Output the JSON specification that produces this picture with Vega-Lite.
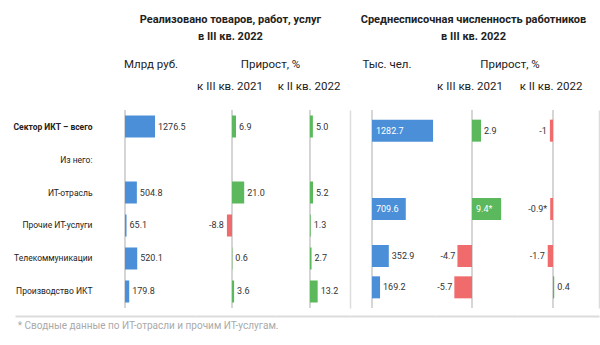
{
  "$schema": "https://vega.github.io/schema/vega-lite/v6.json",
  "background": "white",
  "padding": {"left": 12, "top": 13, "right": 2, "bottom": 5},
  "title": {"text": "* Сводные данные по ИТ-отрасли и прочим ИТ-услугам.", "orient": "bottom", "anchor": "start", "frame": "bounds", "fontSize": 10, "color": "#aaaaaa", "baseline": "top", "offset": 5, "dx": 5},
  "spacing": 0,
  "datasets": {
    "sales": [
      {"name": "Сектор ИКТ – всего", "v": 1276.5, "vl": "1276.5", "y21": 6.9, "y21l": "6.9", "y22": 5.0, "y22l": "5.0"},
      {"name": "Из него:", "v": null, "vl": null, "y21": null, "y21l": null, "y22": null, "y22l": null},
      {"name": "ИТ-отрасль", "v": 504.8, "vl": "504.8", "y21": 21.0, "y21l": "21.0", "y22": 5.2, "y22l": "5.2"},
      {"name": "Прочие ИТ-услуги", "v": 65.1, "vl": "65.1", "y21": -8.8, "y21l": "-8.8", "y22": 1.3, "y22l": "1.3"},
      {"name": "Телекоммуникации", "v": 520.1, "vl": "520.1", "y21": 0.6, "y21l": "0.6", "y22": 2.7, "y22l": "2.7"},
      {"name": "Производство ИКТ", "v": 179.8, "vl": "179.8", "y21": 3.6, "y21l": "3.6", "y22": 13.2, "y22l": "13.2"}
    ],
    "staff": [
      {"name": "Сектор ИКТ – всего", "row": 1, "v": 1282.7, "vl": "1282.7", "y21": 2.9, "y21l": "2.9", "y22": -1, "y22l": "-1"},
      {"name": "ИТ-отрасль и прочие ИТ-услуги*", "row": 3.5, "v": 709.6, "vl": "709.6", "y21": 9.4, "y21l": "9.4*", "y22": -0.9, "y22l": "-0.9*"},
      {"name": "Телекоммуникации", "row": 5, "v": 352.9, "vl": "352.9", "y21": -4.7, "y21l": "-4.7", "y22": -1.7, "y22l": "-1.7"},
      {"name": "Производство ИКТ", "row": 6, "v": 169.2, "vl": "169.2", "y21": -5.7, "y21l": "-5.7", "y22": 0.4, "y22l": "0.4"}
    ]
  },
  "hconcat": [
    {
      "title": {"text": ["Реализовано товаров, работ, услуг", "в III кв. 2022"], "fontWeight": "bold", "fontSize": 11, "frame": "bounds", "dx": 49, "offset": 17, "lineHeight": 17},
      "spacing": 0,
      "hconcat": [
        {
          "width": 180, "height": 198,
          "title": {"text": "Млрд руб.", "offset": 39, "dx": 46},
          "layer": [
            {"data": {"values": [{}]}, "mark": {"type": "rule", "color": "#c8c8c8", "strokeWidth": 1.5}, "encoding": {"x": {"datum": 0, "type": "quantitative"}}},
            {"data": {"name": "sales"}, "mark": {"type": "bar", "color": "#4a8fd8"},
             "encoding": {
               "y": {"field": "name", "type": "nominal", "title": null, "scale": {"domain": ["Сектор ИКТ – всего", "Из него:", "ИТ-отрасль", "Прочие ИТ-услуги", "Телекоммуникации", "Производство ИКТ"], "paddingInner": 0.333, "paddingOuter": 0.1667},
                     "axis": {"labels": true, "minExtent": 0, "labelAlign": "right", "labelPadding": -77, "labelFontSize": 8.5, "labelColor": "#222222", "labelLimit": 200, "labelFontWeight": {"condition": {"test": "datum.value === 'Сектор ИКТ – всего'", "value": "bold"}, "value": "normal"}}},
               "x": {"field": "v", "type": "quantitative", "title": null, "scale": {"domain": [-4681, 2979], "nice": false, "zero": false}}
             }},
            {"data": {"name": "sales"}, "transform": [{"filter": "isValid(datum.v)"}], "mark": {"type": "text", "align": "left", "dx": 3, "baseline": "middle"},
             "encoding": {
               "y": {"field": "name", "type": "nominal", "title": null,
                     "axis": {"labels": true, "minExtent": 0, "labelAlign": "right", "labelPadding": -77, "labelFontSize": 8.5, "labelColor": "#222222", "labelLimit": 200, "labelFontWeight": {"condition": {"test": "datum.value === 'Сектор ИКТ – всего'", "value": "bold"}, "value": "normal"}}},
               "x": {"field": "v", "type": "quantitative", "title": null},
               "text": {"field": "vl"}
             }}
          ]
        },
        {
          "title": {"text": "Прирост, %", "frame": "bounds", "offset": 10, "dx": -2},
          "spacing": 0,
          "hconcat": [
            {
              "width": 80, "height": 198,
              "title": {"text": "к III кв. 2021", "offset": 17, "dx": -5},
              "layer": [
                {"data": {"values": [{}]}, "mark": {"type": "rule", "color": "#c8c8c8", "strokeWidth": 1.5}, "encoding": {"x": {"datum": 0, "type": "quantitative"}}},
                {"data": {"name": "sales"}, "mark": {"type": "bar"},
                 "encoding": {
                   "y": {"field": "name", "type": "nominal", "title": null, "scale": {"domain": ["Сектор ИКТ – всего", "Из него:", "ИТ-отрасль", "Прочие ИТ-услуги", "Телекоммуникации", "Производство ИКТ"], "paddingInner": 0.333, "paddingOuter": 0.1667}},
                   "x": {"field": "y21", "type": "quantitative", "title": null, "scale": {"domain": [-63.8, 74.1], "nice": false, "zero": false}},
                   "color": {"condition": {"test": "datum.y21 < 0", "value": "#f06b6b"}, "value": "#5cb85c"}
                 }},
                {"data": {"name": "sales"}, "transform": [{"filter": "isValid(datum.y21) && datum.y21 >= 0"}], "mark": {"type": "text", "align": "left", "dx": 3, "baseline": "middle"},
                 "encoding": {"y": {"field": "name", "type": "nominal", "title": null}, "x": {"field": "y21", "type": "quantitative", "title": null}, "text": {"field": "y21l"}}},
                {"data": {"name": "sales"}, "transform": [{"filter": "isValid(datum.y21) && datum.y21 < 0"}], "mark": {"type": "text", "align": "right", "dx": -3, "baseline": "middle"},
                 "encoding": {"y": {"field": "name", "type": "nominal", "title": null}, "x": {"field": "y21", "type": "quantitative", "title": null}, "text": {"field": "y21l"}}}
              ]
            },
            {
              "width": 75, "height": 198,
              "title": {"text": "к II кв. 2022", "offset": 17, "dx": -3.5},
              "layer": [
                {"data": {"values": [{}]}, "mark": {"type": "rule", "color": "#c8c8c8", "strokeWidth": 1.5}, "encoding": {"x": {"datum": 0, "type": "quantitative"}}},
                {"data": {"name": "sales"}, "mark": {"type": "bar"},
                 "encoding": {
                   "y": {"field": "name", "type": "nominal", "title": null, "scale": {"domain": ["Сектор ИКТ – всего", "Из него:", "ИТ-отрасль", "Прочие ИТ-услуги", "Телекоммуникации", "Производство ИКТ"], "paddingInner": 0.333, "paddingOuter": 0.1667}},
                   "x": {"field": "y22", "type": "quantitative", "title": null, "scale": {"domain": [-60, 68.7], "nice": false, "zero": false}},
                   "color": {"condition": {"test": "datum.y22 < 0", "value": "#f06b6b"}, "value": "#5cb85c"}
                 }},
                {"data": {"name": "sales"}, "transform": [{"filter": "isValid(datum.y22) && datum.y22 >= 0"}], "mark": {"type": "text", "align": "left", "dx": 3, "baseline": "middle"},
                 "encoding": {"y": {"field": "name", "type": "nominal", "title": null}, "x": {"field": "y22", "type": "quantitative", "title": null}, "text": {"field": "y22l"}}}
              ]
            }
          ]
        }
      ]
    },
    {
      "title": {"text": ["Среднесписочная численность работников", "в III кв. 2022"], "fontWeight": "bold", "fontSize": 11, "frame": "bounds", "dx": -1, "offset": 17, "lineHeight": 17},
      "spacing": 0,
      "hconcat": [
        {
          "width": 85, "height": 198,
          "title": {"text": "Тыс. чел.", "offset": 39, "dx": -5.5},
          "layer": [
            {"data": {"values": [{}]}, "mark": {"type": "rule", "color": "#c8c8c8", "strokeWidth": 1.5}, "encoding": {"x": {"datum": 0, "type": "quantitative"}}},
            {"data": {"name": "staff"}, "mark": {"type": "bar", "orient": "horizontal", "height": 22, "color": "#4a8fd8"},
             "encoding": {
               "y": {"field": "row", "type": "quantitative", "title": null, "scale": {"domain": [0.5, 6.5], "reverse": true, "nice": false, "zero": false}, "axis": {"orient": "left", "domain": true, "domainColor": "#dcdcdc", "domainWidth": 1.5, "minExtent": 0, "maxExtent": 0}},
               "x": {"field": "v", "type": "quantitative", "title": null, "scale": {"domain": [-462.2, 1323.5], "nice": false, "zero": false}}
             }},
            {"data": {"name": "staff"}, "transform": [{"filter": "datum.v <= 500"}], "mark": {"type": "text", "align": "left", "dx": 3, "baseline": "middle"},
             "encoding": {"y": {"field": "row", "type": "quantitative", "title": null, "axis": {"orient": "left", "domain": true, "domainColor": "#dcdcdc", "domainWidth": 1.5, "minExtent": 0, "maxExtent": 0}}, "x": {"field": "v", "type": "quantitative", "title": null}, "text": {"field": "vl"}}},
            {"data": {"name": "staff"}, "transform": [{"filter": "datum.v > 500"}], "mark": {"type": "text", "align": "left", "dx": 4, "baseline": "middle", "color": "white"},
             "encoding": {"y": {"field": "row", "type": "quantitative", "title": null, "axis": {"orient": "left", "domain": true, "domainColor": "#dcdcdc", "domainWidth": 1.5, "minExtent": 0, "maxExtent": 0}}, "x": {"datum": 0, "type": "quantitative"}, "text": {"field": "vl"}}}
          ]
        },
        {
          "title": {"text": "Прирост, %", "frame": "bounds", "offset": 10, "dx": -7},
          "spacing": 0,
          "hconcat": [
            {
              "width": 82, "height": 198,
              "title": {"text": "к III кв. 2021", "offset": 17, "dx": -6},
              "layer": [
                {"data": {"values": [{}]}, "mark": {"type": "rule", "color": "#c8c8c8", "strokeWidth": 1.5}, "encoding": {"x": {"datum": 0, "type": "quantitative"}}},
                {"data": {"name": "staff"}, "mark": {"type": "bar", "orient": "horizontal", "height": 22},
                 "encoding": {
                   "y": {"field": "row", "type": "quantitative", "title": null, "scale": {"domain": [0.5, 6.5], "reverse": true, "nice": false, "zero": false}},
                   "x": {"field": "y21", "type": "quantitative", "title": null, "scale": {"domain": [-11.94, 14.52], "nice": false, "zero": false}},
                   "color": {"condition": {"test": "datum.y21 < 0", "value": "#f06b6b"}, "value": "#5cb85c"}
                 }},
                {"data": {"name": "staff"}, "transform": [{"filter": "datum.y21 >= 0 && datum.y21 <= 5"}], "mark": {"type": "text", "align": "left", "dx": 3, "baseline": "middle"},
                 "encoding": {"y": {"field": "row", "type": "quantitative", "title": null}, "x": {"field": "y21", "type": "quantitative", "title": null}, "text": {"field": "y21l"}}},
                {"data": {"name": "staff"}, "transform": [{"filter": "datum.y21 > 5"}], "mark": {"type": "text", "align": "left", "dx": 4, "baseline": "middle", "color": "white"},
                 "encoding": {"y": {"field": "row", "type": "quantitative", "title": null}, "x": {"datum": 0, "type": "quantitative"}, "text": {"field": "y21l"}}},
                {"data": {"name": "staff"}, "transform": [{"filter": "datum.y21 < 0"}], "mark": {"type": "text", "align": "right", "dx": -2, "baseline": "middle"},
                 "encoding": {"y": {"field": "row", "type": "quantitative", "title": null}, "x": {"field": "y21", "type": "quantitative", "title": null}, "text": {"field": "y21l"}}}
              ]
            },
            {
              "width": 82, "height": 198,
              "title": {"text": "к II кв. 2022", "offset": 17, "dx": -7},
              "layer": [
                {"data": {"values": [{}]}, "mark": {"type": "rule", "color": "#c8c8c8", "strokeWidth": 1.5}, "encoding": {"x": {"datum": 0, "type": "quantitative"}}},
                {"data": {"name": "staff"}, "mark": {"type": "bar", "orient": "horizontal", "height": 22},
                 "encoding": {
                   "y": {"field": "row", "type": "quantitative", "title": null, "scale": {"domain": [0.5, 6.5], "reverse": true, "nice": false, "zero": false}, "axis": {"orient": "right", "domain": true, "domainColor": "#dcdcdc", "domainWidth": 1.5, "minExtent": 0, "maxExtent": 0}},
                   "x": {"field": "y22", "type": "quantitative", "title": null, "scale": {"domain": [-11.61, 14.84], "nice": false, "zero": false}},
                   "color": {"condition": {"test": "datum.y22 < 0", "value": "#f06b6b"}, "value": "#5cb85c"}
                 }},
                {"data": {"name": "staff"}, "transform": [{"filter": "datum.y22 >= 0"}], "mark": {"type": "text", "align": "left", "dx": 3, "baseline": "middle"},
                 "encoding": {"y": {"field": "row", "type": "quantitative", "title": null, "axis": {"orient": "right", "domain": true, "domainColor": "#dcdcdc", "domainWidth": 1.5, "minExtent": 0, "maxExtent": 0}}, "x": {"field": "y22", "type": "quantitative", "title": null}, "text": {"field": "y22l"}}},
                {"data": {"name": "staff"}, "transform": [{"filter": "datum.y22 < 0"}], "mark": {"type": "text", "align": "right", "dx": -3, "baseline": "middle"},
                 "encoding": {"y": {"field": "row", "type": "quantitative", "title": null, "axis": {"orient": "right", "domain": true, "domainColor": "#dcdcdc", "domainWidth": 1.5, "minExtent": 0, "maxExtent": 0}}, "x": {"field": "y22", "type": "quantitative", "title": null}, "text": {"field": "y22l"}}}
              ]
            }
          ]
        }
      ]
    }
  ],
  "config": {
    "view": {"stroke": null},
    "font": "Roboto, sans-serif",
    "axis": {"grid": false, "ticks": false, "labels": false, "domain": false, "minExtent": 0},
    "axisY": {"minExtent": 0},
    "axisX": {"domain": true, "domainColor": "#dcdcdc", "domainWidth": 2, "offset": 8, "minExtent": 0},
    "title": {"fontSize": 11.5, "fontWeight": "normal", "color": "#222222", "anchor": "middle", "frame": "group", "baseline": "bottom"},
    "text": {"fontSize": 9, "color": "#333333"}
  }
}
